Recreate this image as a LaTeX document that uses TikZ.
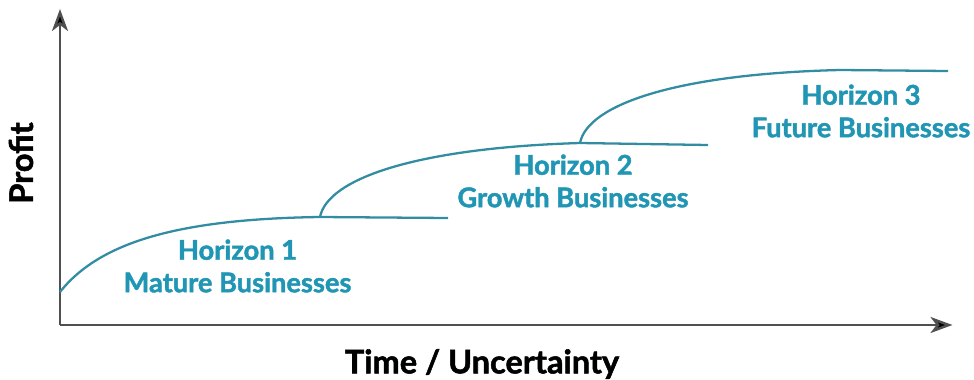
\documentclass[tikz,border=0pt]{standalone}
\usepackage{fontspec}
\setmainfont{Lato}[BoldFeatures={FakeBold=1.6}]
\usetikzlibrary{positioning, arrows.meta}
\definecolor{horizonteal}{RGB}{32, 150, 180}
\definecolor{curveteal}{RGB}{50, 140, 162}
\definecolor{axisgray}{RGB}{80, 80, 80}

\begin{document}
\begin{tikzpicture}[
    axisstyle/.style={draw=axisgray, line width=1.4pt, -{Stealth[length=0.44cm, width=0.32cm, inset=0.12cm, fill=black]}},
    curvestyle/.style={draw=curveteal, line width=1.3pt},
    horizonlabel/.style={text=horizonteal, font=\bfseries\fontsize{15.5}{18.5}\selectfont, align=center},
    axislabel/.style={text=black, font=\bfseries\fontsize{18.5}{20}\selectfont}
]
    \useasboundingbox (0,0) rectangle (19.48,7.58);

    % --- Axes ---

    \coordinate (origin) at (1.2,1.08);
    \coordinate (ytop) at (1.2,7.4);
    \coordinate (xend) at (19.05,1.08);

    \draw[axisstyle] (origin) -- (ytop);
    \draw[axisstyle] (origin) -- (xend);

    \node[axislabel, rotate=90] (profit) at (0.42,4.32) {Profit};
    \node[axislabel] (time) at (9.64,0.3) {Time / Uncertainty};

    % --- Curves ---

    \coordinate (h1start) at (1.2,1.74);
    \coordinate (h1top) at (6.4,3.24);
    \coordinate (h1end) at (8.96,3.22);

    \coordinate (h2top) at (11.6,4.72);
    \coordinate (h2end) at (14.16,4.68);

    \coordinate (h3top) at (16.8,6.18);
    \coordinate (h3end) at (18.96,6.16);

    \draw[curvestyle] (h1start) .. controls (2.0,2.75) and (3.6,3.2) .. (h1top) -- (h1end);
    \draw[curvestyle] (h1top) .. controls (6.55,4.0) and (8.3,4.62) .. (h2top) -- (h2end);
    \draw[curvestyle] (h2top) .. controls (11.75,5.48) and (13.5,6.1) .. (h3top) -- (h3end);

    % --- Labels ---

    \node[horizonlabel] (h1) at (4.75,2.26) {Horizon 1\\Mature Businesses};
    \node[horizonlabel] (h2) at (11.46,3.96) {Horizon 2\\Growth Businesses};
    \node[horizonlabel] (h3) at (17.22,5.36) {Horizon 3\\Future Businesses};

\end{tikzpicture}
\end{document}
